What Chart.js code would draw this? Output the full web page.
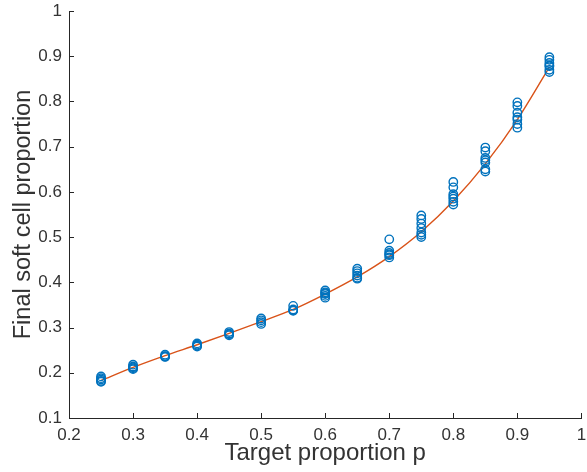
<!DOCTYPE html>
<html>
<head>
<meta charset="utf-8">
<script src="https://cdn.jsdelivr.net/npm/chart.js@4"></script>
<style>
  html, body { margin: 0; padding: 0; background: #fff; }
  #wrap { width: 587px; height: 472px; }
</style>
</head>
<body>
<div id="wrap"><canvas id="propChart" width="587" height="472"></canvas></div>
<script>
// target proportions (x) and measured final proportions per run
const targets = [0.25, 0.3, 0.35, 0.4, 0.45, 0.5, 0.55, 0.6, 0.65, 0.7, 0.75, 0.8, 0.85, 0.9, 0.95];
const runs = [
  [0.192, 0.188, 0.185, 0.182, 0.180],
  [0.218, 0.214, 0.212, 0.210, 0.208],
  [0.240, 0.237, 0.236, 0.235],
  [0.265, 0.262, 0.260, 0.258],
  [0.290, 0.287, 0.285, 0.283],
  [0.320, 0.316, 0.312, 0.308],
  [0.348, 0.340, 0.338, 0.337],
  [0.382, 0.378, 0.376, 0.374, 0.370, 0.366],
  [0.430, 0.425, 0.420, 0.415, 0.410, 0.408],
  [0.495, 0.470, 0.465, 0.462, 0.460, 0.455],
  [0.548, 0.540, 0.530, 0.520, 0.510, 0.505, 0.500],
  [0.622, 0.610, 0.595, 0.590, 0.585, 0.578, 0.572],
  [0.698, 0.690, 0.675, 0.670, 0.665, 0.650, 0.645],
  [0.798, 0.790, 0.775, 0.765, 0.760, 0.750, 0.742],
  [0.898, 0.892, 0.885, 0.880, 0.878, 0.870, 0.865]
];
// fitted curve
const fitValues = [0.183, 0.212, 0.238, 0.262, 0.287, 0.313, 0.340, 0.374, 0.412, 0.457, 0.512, 0.580, 0.662, 0.760, 0.876];
const xTicks = [0.2, 0.3, 0.4, 0.5, 0.6, 0.7, 0.8, 0.9, 1];
const yTicks = [0.1, 0.2, 0.3, 0.4, 0.5, 0.6, 0.7, 0.8, 0.9, 1];

const axisColor = "#262626";
const textColor = "#333333";
const font = "'Liberation Sans', Arial, sans-serif";

const scatterPoints = [];
targets.forEach((t, i) => {
  runs[i].forEach((v) => scatterPoints.push({ x: t, y: v }));
});
const fitPoints = targets.map((t, i) => ({ x: t, y: fitValues[i] }));

// MATLAB style inward ticks
const inwardTicks = {
  id: "inwardTicks",
  afterDraw(chart) {
    const { ctx, chartArea, scales } = chart;
    ctx.save();
    ctx.strokeStyle = axisColor;
    ctx.lineWidth = 1;
    ctx.beginPath();
    xTicks.forEach((t) => {
      const px = Math.round(scales.x.getPixelForValue(t)) + 0.5;
      ctx.moveTo(px, chartArea.bottom);
      ctx.lineTo(px, chartArea.bottom - 5);
    });
    yTicks.forEach((t) => {
      const py = Math.round(scales.y.getPixelForValue(t)) + 0.5;
      ctx.moveTo(chartArea.left, py);
      ctx.lineTo(chartArea.left + 5, py);
    });
    ctx.stroke();
    ctx.restore();
  }
};

new Chart(document.getElementById("propChart"), {
  type: "scatter",
  data: {
    datasets: [
      {
        label: "fit",
        type: "line",
        data: fitPoints,
        borderColor: "#D95319",
        borderWidth: 1.4,
        pointRadius: 0,
        fill: false,
        cubicInterpolationMode: "monotone",
        order: 1
      },
      {
        label: "runs",
        data: scatterPoints,
        borderColor: "#0072BD",
        backgroundColor: "rgba(0,0,0,0)",
        borderWidth: 1.4,
        pointRadius: 4.2,
        pointHoverRadius: 4.2,
        order: 0
      }
    ]
  },
  options: {
    responsive: false,
    animation: false,
    events: [],
    layout: { padding: { top: 11, right: 3, left: 0, bottom: 0 } },
    plugins: { legend: { display: false }, tooltip: { enabled: false } },
    scales: {
      x: {
        type: "linear",
        min: 0.2,
        max: 1,
        afterBuildTicks: (scale) => { scale.ticks = xTicks.map((v) => ({ value: v })); },
        afterFit: (scale) => { scale.height = 54; scale.paddingLeft = 0; scale.paddingRight = 0; },
        grid: { display: false, drawTicks: false },
        border: { display: true, color: axisColor, width: 1 },
        ticks: {
          color: textColor,
          padding: 7,
          font: { family: font, size: 17 },
          callback: (v) => String(v)
        },
        title: {
          display: true,
          text: "Target proportion p",
          color: textColor,
          padding: { top: 0, bottom: 4 },
          font: { family: font, size: 24 }
        }
      },
      y: {
        type: "linear",
        min: 0.1,
        max: 1,
        afterBuildTicks: (scale) => { scale.ticks = yTicks.map((v) => ({ value: v })); },
        afterFit: (scale) => { scale.width = 69; scale.paddingTop = 0; scale.paddingBottom = 0; },
        grid: { display: false, drawTicks: false },
        border: { display: true, color: axisColor, width: 1 },
        ticks: {
          color: textColor,
          padding: 7,
          font: { family: font, size: 17 },
          callback: (v) => String(v)
        },
        title: {
          display: true,
          text: "Final soft cell proportion",
          color: textColor,
          padding: { top: 9, bottom: 0 },
          font: { family: font, size: 23.5 }
        }
      }
    }
  },
  plugins: [inwardTicks]
});
</script>
</body>
</html>
